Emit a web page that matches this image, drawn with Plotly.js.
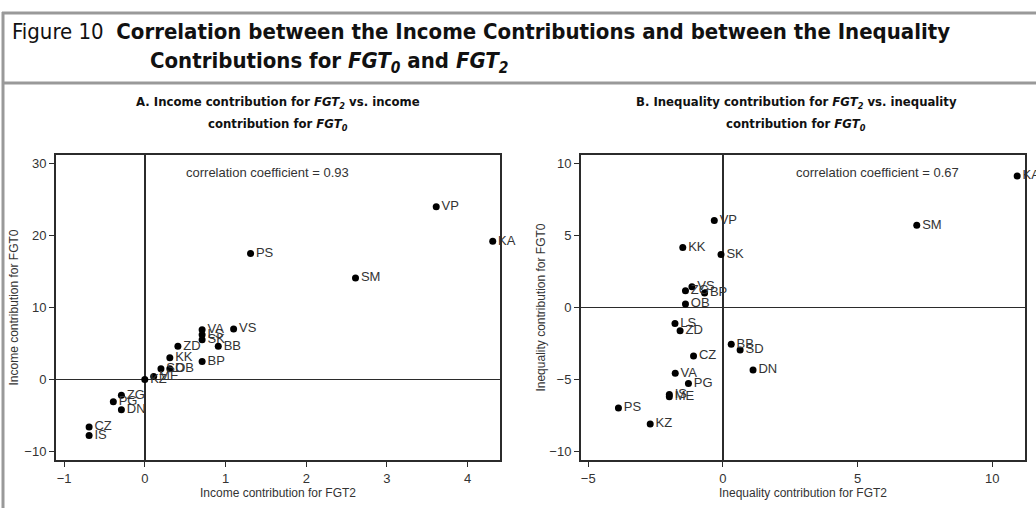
<!DOCTYPE html>
<html><head><meta charset="utf-8">
<script src="https://cdn.plot.ly/plotly-3.0.1.min.js"></script>
<style>html,body{margin:0;padding:0;background:#fff}#chart{width:1036px;height:508px}</style>
</head><body><div id="chart"></div>
<script>
// Panel A: income contributions
const incNames = ["VP","KA","PS","SM","VS","VA","LS","SK","BB","ZD","KK","BP","SD","OB","ME","KZ","ZG","PG","DN","CZ","IS"];
const incFGT2  = [3.61,4.31,1.31,2.61,1.10,0.71,0.71,0.71,0.91,0.41,0.31,0.71,0.20,0.31,0.11,0.00,-0.29,-0.39,-0.29,-0.69,-0.69];
const incFGT0  = [24.0,19.2,17.5,14.1,7.0,6.9,6.2,5.5,4.6,4.6,3.0,2.5,1.5,1.5,0.4,0.0,-2.2,-3.1,-4.2,-6.6,-7.8];
// Panel B: inequality contributions
const ineqNames = ["VP","KA","SM","KK","SK","VS","ZG","BP","OB","LS","ZD","BB","SD","CZ","VA","DN","PG","IS","ME","PS","KZ"];
const ineqFGT2  = [-0.32,10.93,7.2,-1.49,-0.07,-1.15,-1.39,-0.68,-1.39,-1.78,-1.59,0.31,0.64,-1.09,-1.77,1.12,-1.28,-1.99,-1.99,-3.88,-2.70];
const ineqFGT0  = [6.04,9.13,5.7,4.16,3.67,1.44,1.16,1.0,0.24,-1.11,-1.62,-2.55,-2.95,-3.37,-4.57,-4.34,-5.27,-6.03,-6.2,-6.97,-8.08];
const xTicksA = [-1,0,1,2,3,4];
const yTicksA = [-10,0,10,20,30];
const xTicksB = [-5,0,5,10];
const yTicksB = [-10,-5,0,5,10];

const W = 1036, H = 508;
const px = v => v / W, py = v => 1 - v / H;
const dark = '#2b2b2b', gray = '#999999';
const baseFont = 'Liberation Sans, Arial, sans-serif';
const narrow = 'DejaVu Sans Condensed, Liberation Sans Narrow, Arial Narrow, sans-serif';

function pts(x, y, names, xa, ya) {
  return {type:'scatter', mode:'markers+text', x:x, y:y, text:names, xaxis:xa, yaxis:ya,
    textposition:'middle right', cliponaxis:false,
    textfont:{family:baseFont, size:13, color:'#333'},
    marker:{color:'#000', size:7}, hoverinfo:'skip', showlegend:false};
}

const axisCommon = {showgrid:false, zeroline:true, zerolinecolor:dark, zerolinewidth:1.5,
  showline:true, linecolor:dark, linewidth:2, mirror:true, ticks:'outside', ticklen:5,
  tickcolor:dark, tickwidth:1, tickfont:{family:baseFont, size:13, color:'#333'}, fixedrange:true,
  automargin:true};
const tFont = {family:baseFont, size:12, color:'#333'};

const layout = {
  width:W, height:H, margin:{l:0,r:0,t:0,b:0}, paper_bgcolor:'#fff', plot_bgcolor:'#fff',
  showlegend:false,
  xaxis:Object.assign({}, axisCommon, {domain:[px(56),px(500)], range:[-1.1,4.4], tickvals:xTicksA,
    anchor:'y', title:{text:'Income contribution for FGT2', standoff:4, font:tFont}}),
  yaxis:Object.assign({}, axisCommon, {domain:[1-460/H,1-155/H], range:[-11.2,31.2], tickvals:yTicksA,
    anchor:'x', title:{text:'Income contribution for FGT0', standoff:3, font:tFont}}),
  xaxis2:Object.assign({}, axisCommon, {domain:[px(581),px(1025)], range:[-5.27,11.22], tickvals:xTicksB,
    anchor:'y2', title:{text:'Inequality contribution for FGT2', standoff:4, font:tFont}}),
  yaxis2:Object.assign({}, axisCommon, {domain:[1-460/H,1-155/H], range:[-10.58,10.58], tickvals:yTicksB,
    anchor:'x2', title:{text:'Inequality contribution for FGT0', standoff:1, font:tFont}}),
  shapes:[
    {type:'line', xref:'paper', yref:'paper', x0:px(2), x1:1, y0:py(13), y1:py(13), line:{color:gray, width:3}},
    {type:'line', xref:'paper', yref:'paper', x0:px(3), x1:px(3), y0:py(12), y1:0, line:{color:gray, width:3}},
    {type:'line', xref:'paper', yref:'paper', x0:px(2), x1:1, y0:py(83), y1:py(83), line:{color:gray, width:3}}
  ],
  annotations:[
    {xref:'paper', yref:'paper', x:px(10), y:py(31), xanchor:'left', yanchor:'middle', showarrow:false,
     text:'Figure 10  <b>Correlation between the Income Contributions and between the Inequality</b>',
     font:{family:narrow, size:22, color:'#111'}},
    {xref:'paper', yref:'paper', x:px(148), y:py(62), xanchor:'left', yanchor:'middle', showarrow:false,
     text:'<b>Contributions for <i>FGT<sub>0</sub></i> and <i>FGT<sub>2</sub></i></b>',
     font:{family:narrow, size:22, color:'#111'}},
    {xref:'paper', yref:'paper', x:px(278), y:py(103), xanchor:'center', yanchor:'middle', showarrow:false,
     text:'<b>A. Income contribution for <i>FGT<sub>2</sub></i> vs. income</b>', font:{family:narrow, size:13, color:'#111'}},
    {xref:'paper', yref:'paper', x:px(278), y:py(124), xanchor:'center', yanchor:'middle', showarrow:false,
     text:'<b>contribution for <i>FGT<sub>0</sub></i></b>', font:{family:narrow, size:13, color:'#111'}},
    {xref:'paper', yref:'paper', x:px(796), y:py(103), xanchor:'center', yanchor:'middle', showarrow:false,
     text:'<b>B. Inequality contribution for <i>FGT<sub>2</sub></i> vs. inequality</b>', font:{family:narrow, size:13, color:'#111'}},
    {xref:'paper', yref:'paper', x:px(796), y:py(124), xanchor:'center', yanchor:'middle', showarrow:false,
     text:'<b>contribution for <i>FGT<sub>0</sub></i></b>', font:{family:narrow, size:13, color:'#111'}},
    {xref:'x domain', yref:'y domain', x:0.476, y:0.944, xanchor:'center', yanchor:'middle', showarrow:false,
     text:'correlation coefficient = 0.93', font:{family:baseFont, size:13, color:'#333'}},
    {xref:'x2 domain', yref:'y2 domain', x:0.667, y:0.944, xanchor:'center', yanchor:'middle', showarrow:false,
     text:'correlation coefficient = 0.67', font:{family:baseFont, size:13, color:'#333'}}
  ]
};

Plotly.newPlot('chart', [
  pts(incFGT2, incFGT0, incNames, 'x', 'y'),
  pts(ineqFGT2, ineqFGT0, ineqNames, 'x2', 'y2')
], layout, {staticPlot:true, displayModeBar:false});
</script></body></html>
